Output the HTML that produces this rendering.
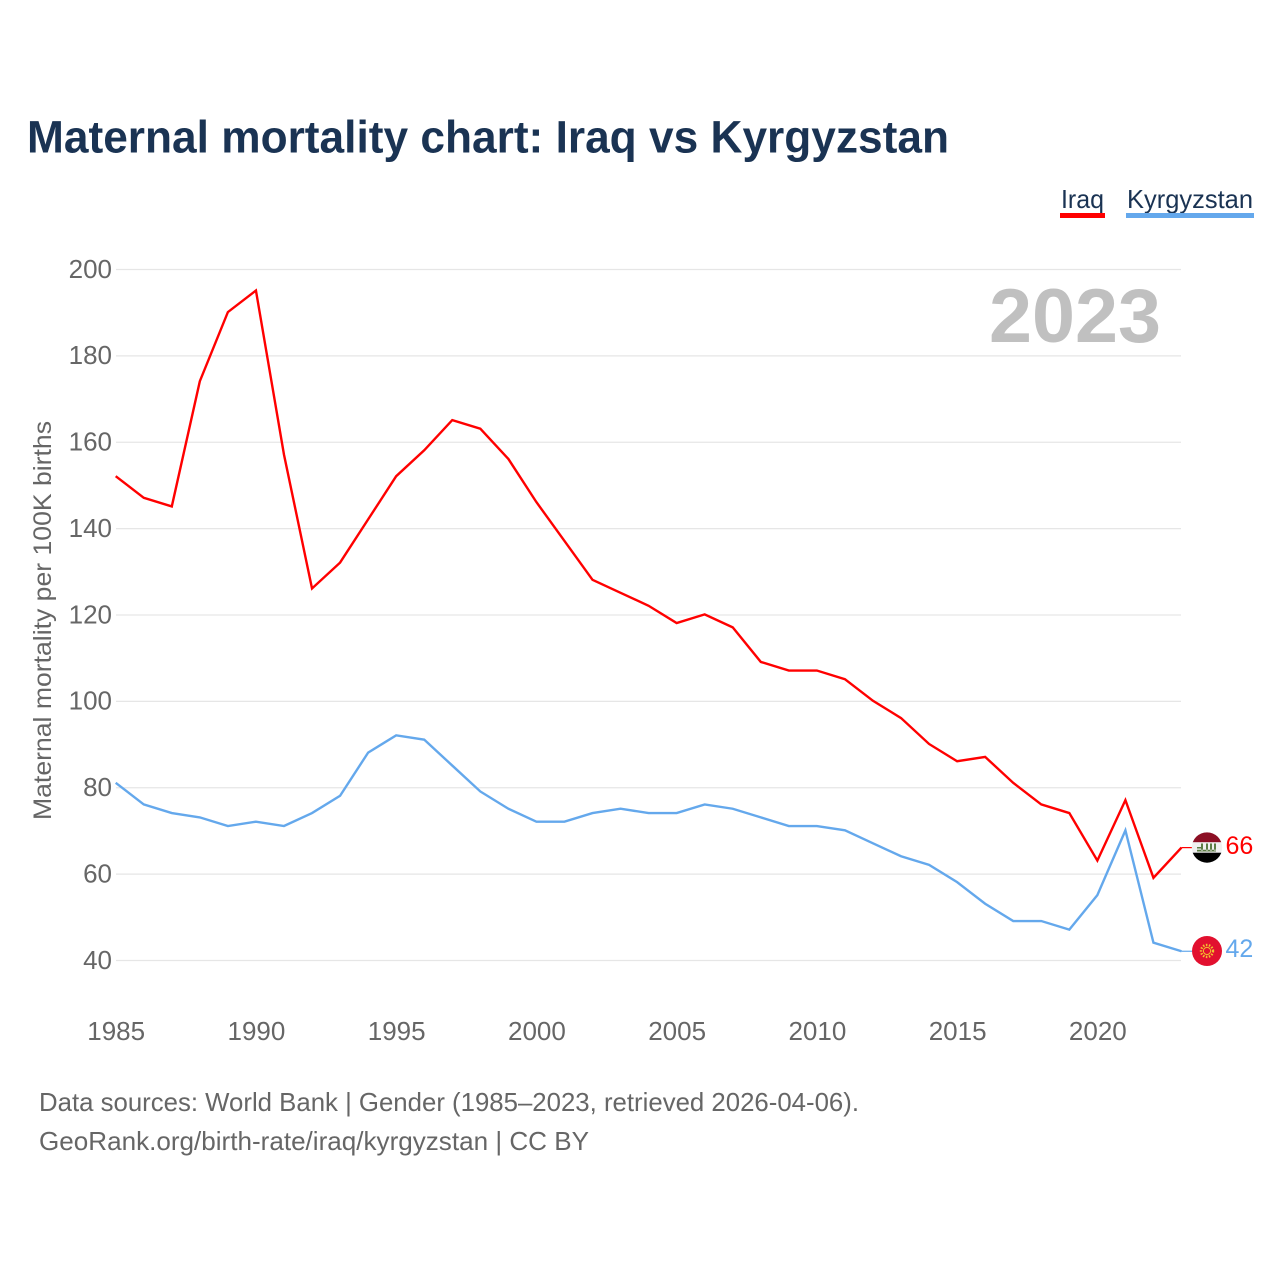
<!DOCTYPE html>
<html lang="en">
<head>
<meta charset="utf-8">
<title>Maternal mortality chart: Iraq vs Kyrgyzstan</title>
<style>
html,body{margin:0;padding:0;background:#fff;}
svg{display:block;font-family:"Liberation Sans",sans-serif;}
</style>
</head>
<body>
<svg id="chart" xmlns="http://www.w3.org/2000/svg" width="1280" height="1280" viewBox="0 0 1280 1280">
  <rect x="0" y="0" width="1280" height="1280" fill="#ffffff"/>
  <text x="27" y="152.5" font-size="45" font-weight="700" fill="#1a3353" textLength="922" lengthAdjust="spacingAndGlyphs">Maternal mortality chart: Iraq vs Kyrgyzstan</text>
  <g>
    <g>
      <text x="1061" y="208" font-size="26" fill="#1a3353" textLength="43" lengthAdjust="spacingAndGlyphs">Iraq</text>
      <rect x="1060" y="213" width="45" height="5" fill="#ff0000"/>
    </g>
    <g>
      <text x="1127" y="208" font-size="26" fill="#1a3353" textLength="126" lengthAdjust="spacingAndGlyphs">Kyrgyzstan</text>
      <rect x="1126" y="213" width="128" height="5" fill="#64a8ec"/>
    </g>
  </g>
  <g id="grid"></g>
  <text x="989" y="342" font-size="76" font-weight="700" fill="#c0c0c0" textLength="172" lengthAdjust="spacingAndGlyphs">2023</text>
  <g id="yticks"></g>
  <g id="xticks"></g>
  <text transform="translate(51,620.5) rotate(-90)" text-anchor="middle" font-size="25" fill="#666666" textLength="399" lengthAdjust="spacingAndGlyphs">Maternal mortality per 100K births</text>
  <g id="series" transform="translate(0,-0.6)"></g>
  <g id="flag-iraq">
    <clipPath id="clip-iraq"><circle id="clip-iraq-circle" cx="0" cy="0" r="15.2"/></clipPath>
    <g clip-path="url(#clip-iraq)">
      <rect x="-16" y="-16" width="32" height="10.8" fill="#8c0f24"/>
      <rect x="-16" y="-5.2" width="32" height="10.4" fill="#f0f0f0"/>
      <rect x="-16" y="5.2" width="32" height="11" fill="#000000"/>
      <path d="M-10 4H9V2.2H-10ZM-6-4H-4V3H-6ZM-1-4H1V3H-1ZM3-4H5V3H3ZM7-4H9V3H7ZM-10-0.5H-6V1H-10Z" fill="#5d7d45"/>
    </g>
  </g>
  <g id="flag-kyrgyzstan">
    <circle cx="0" cy="0" r="15" fill="#e2102f"/>
    <circle cx="0" cy="0" r="6" fill="none" stroke="#f3c02f" stroke-width="2.4" stroke-dasharray="1.5 1.5"/>
    <circle cx="0" cy="0" r="3.6" fill="#e2102f" stroke="#f3c02f" stroke-width="1"/>
  </g>
  <g id="end-labels"></g>
  <text x="39" y="1111" font-size="26" fill="#666666" textLength="820" lengthAdjust="spacingAndGlyphs">Data sources: World Bank | Gender (1985–2023, retrieved 2026-04-06).</text>
  <text x="39" y="1150" font-size="26" fill="#666666" textLength="550" lengthAdjust="spacingAndGlyphs">GeoRank.org/birth-rate/iraq/kyrgyzstan | CC BY</text>
</svg>
<script>
const years = [1985,1986,1987,1988,1989,1990,1991,1992,1993,1994,1995,1996,1997,1998,1999,2000,2001,2002,2003,2004,2005,2006,2007,2008,2009,2010,2011,2012,2013,2014,2015,2016,2017,2018,2019,2020,2021,2022,2023];
const iraqValues = [152,147,145,174,190,195,157,126,132,142,152,158,165,163,156,146,137,128,125,122,118,120,117,109,107,107,105,100,96,90,86,87,81,76,74,63,77,59,66];
const kyrgyzstanValues = [81,76,74,73,71,72,71,74,78,88,92,91,85,79,75,72,72,74,75,74,74,76,75,73,71,71,70,67,64,62,58,53,49,49,47,55,70,44,42];
const yTickValues = [40,60,80,100,120,140,160,180,200];
const xTickValues = [1985,1990,1995,2000,2005,2010,2015,2020];

const NS = 'http://www.w3.org/2000/svg';
const xScale = function (year) { return 115.7 + (year - 1985) * (1181.5 - 115.7) / 38; };
const yScale = function (value) { return 960.5 - (value - 40) * (960.5 - 269.5) / 160; };

function make(tag, attrs, parent) {
  const el = document.createElementNS(NS, tag);
  Object.keys(attrs).forEach(function (key) { el.setAttribute(key, attrs[key]); });
  parent.appendChild(el);
  return el;
}

const grid = document.getElementById('grid');
const yticks = document.getElementById('yticks');
yTickValues.forEach(function (value) {
  const line = make('line', {x1: 116, x2: 1181, y1: yScale(value), y2: yScale(value), stroke: '#e6e6e6', 'stroke-width': 1.3}, grid);
  
  
  const label = make('text', {x: 112, y: yScale(value) + 8.3, 'text-anchor': 'end', 'font-size': 26, fill: '#666666'}, yticks);
  
  
  label.textContent = value;
});

const xticks = document.getElementById('xticks');
xTickValues.forEach(function (year) {
  const label = make('text', {x: xScale(year) + 0.5, y: 1040, 'text-anchor': 'middle', 'font-size': 26, fill: '#666666'}, xticks);
  
  
  label.textContent = year;
});

function pathFor(values) {
  return values.map(function (value, i) {
    return (i ? 'L' : 'M') + xScale(years[i]).toFixed(2) + ' ' + yScale(value).toFixed(2);
  }).join('');
}

const seriesGroup = document.getElementById('series');

const kyrgyzstanLine = make('path', {d: pathFor(kyrgyzstanValues), fill: 'none', stroke: '#64a8ec', 'stroke-width': 2.4, 'stroke-linejoin': 'miter', 'stroke-miterlimit': 10}, seriesGroup);



const iraqLine = make('path', {d: pathFor(iraqValues), fill: 'none', stroke: '#ff0000', 'stroke-width': 2.4, 'stroke-linejoin': 'miter', 'stroke-miterlimit': 10}, seriesGroup);



const lastYear = years[years.length - 1];
const iraqLast = iraqValues[iraqValues.length - 1];
const kyrgyzstanLast = kyrgyzstanValues[kyrgyzstanValues.length - 1];

const iraqConnector = make('line', {x1: xScale(lastYear), x2: 1192, y1: yScale(iraqLast), y2: yScale(iraqLast), stroke: '#ff0000', 'stroke-width': 1.2}, seriesGroup);



const kyrgyzstanConnector = make('line', {x1: xScale(lastYear), x2: 1192, y1: yScale(kyrgyzstanLast), y2: yScale(kyrgyzstanLast), stroke: '#64a8ec', 'stroke-width': 1.2}, seriesGroup);



document.getElementById('flag-iraq').setAttribute('transform', 'translate(1207,' + (yScale(iraqLast) - 0.7) + ')');
document.getElementById('flag-kyrgyzstan').setAttribute('transform', 'translate(1207,' + (yScale(kyrgyzstanLast) - 0.9) + ')');

const endLabels = document.getElementById('end-labels');

const iraqLabel = make('text', {x: 1225.5, y: yScale(iraqLast) + 6, 'font-size': 25, fill: '#ff0000'}, endLabels);


iraqLabel.textContent = iraqLast;

const kyrgyzstanLabel = make('text', {x: 1225.5, y: yScale(kyrgyzstanLast) + 5.3, 'font-size': 25, fill: '#64a8ec'}, endLabels);


kyrgyzstanLabel.textContent = kyrgyzstanLast;
</script>
</body>
</html>
